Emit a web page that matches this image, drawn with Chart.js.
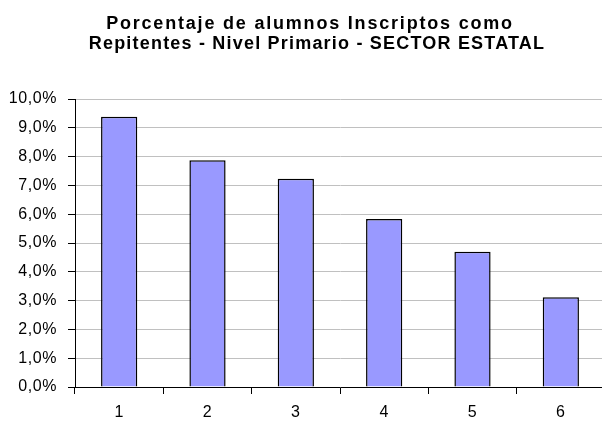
<!DOCTYPE html>
<html>
<head>
<meta charset="utf-8">
<script src="https://cdn.jsdelivr.net/npm/chart.js@4"></script>
<style>
html,body{margin:0;padding:0;background:#fff;overflow:hidden;width:602px;height:423px;}
#wrap{width:624px;height:423px;}
</style>
</head>
<body>
<div id="wrap"><canvas id="c" width="624" height="423"></canvas></div>
<script>
const titleLines = ["Porcentaje de alumnos Inscriptos como", "Repitentes - Nivel Primario - SECTOR ESTATAL"];
const categories = ["1", "2", "3", "4", "5", "6"];
const values = [9.38, 7.87, 7.23, 5.83, 4.70, 3.12];
const yTicks = [0, 1, 2, 3, 4, 5, 6, 7, 8, 9, 10];

const spacingPlugin = {
  id: 'spacing',
  beforeLayout(chart) { chart.ctx.letterSpacing = '0.6px'; },
  beforeDraw(chart) { chart.ctx.letterSpacing = '0.6px'; }
};

const titlePlugin = {
  id: 'customTitle',
  afterDraw(chart) {
    const ctx = chart.ctx;
    ctx.save();
    ctx.font = 'bold 18px "Liberation Sans", Arial, sans-serif';
    ctx.fillStyle = '#000';
    ctx.textAlign = 'center';
    ctx.textBaseline = 'alphabetic';
    ctx.letterSpacing = '1.8px';
    ctx.fillText(titleLines[0], 310, 29);
    ctx.letterSpacing = '1.2px';
    ctx.fillText(titleLines[1], 317, 49);
    ctx.restore();
  }
};

new Chart(document.getElementById('c'), {
  type: 'bar',
  data: {
    labels: categories,
    datasets: [{
      data: values,
      backgroundColor: '#9999FF',
      borderColor: '#000',
      borderWidth: 1.5,
      categoryPercentage: 1,
      barPercentage: 0.41
    }]
  },
  options: {
    responsive: false,
    animation: false,
    layout: { padding: { top: 99, left: 0, right: 19, bottom: 0 } },
    plugins: { legend: { display: false }, title: { display: false }, tooltip: { enabled: false } },
    scales: {
      x: {
        offset: true,
        grid: { offset: true, drawOnChartArea: false, drawTicks: true, tickLength: 7, tickColor: '#000' },
        border: { display: true, color: '#000', width: 1 },
        ticks: { color: '#000', padding: 9, font: { family: '"Liberation Sans", Arial, sans-serif', size: 16 } },
        afterFit(s) { s.height = 36; }
      },
      y: {
        min: 0, max: 10,
        afterBuildTicks(s) { s.ticks = yTicks.map(v => ({ value: v })); },
        grid: { color: '#c0c0c0', lineWidth: 1, drawTicks: true, tickLength: 7, tickColor: '#000' },
        border: { display: true, color: '#000', width: 1 },
        ticks: {
          color: '#000', padding: 11,
          font: { family: '"Liberation Sans", Arial, sans-serif', size: 16 },
          callback: v => v.toFixed(1).replace('.', ',') + '%'
        },
        afterFit(s) { s.width = 75; }
      }
    }
  },
  plugins: [spacingPlugin, titlePlugin]
});
</script>
</body>
</html>
